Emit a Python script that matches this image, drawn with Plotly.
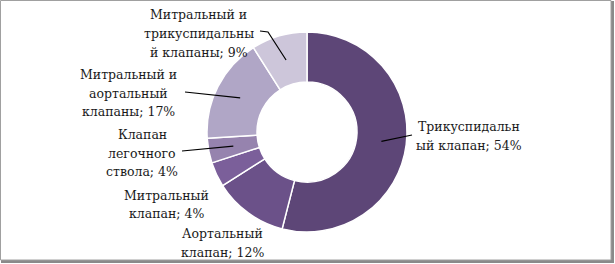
import math
import plotly.graph_objects as go

# ---- data ----
labels = [
    "Трикуспидальный клапан",
    "Аортальный клапан",
    "Митральный клапан",
    "Клапан легочного ствола",
    "Митральный и аортальный клапаны",
    "Митральный и трикуспидальный клапаны",
]
label_texts = [
    "Трикуспидальн<br>ый клапан; 54%",
    "Аортальный<br>клапан; 12%",
    "Митральный<br>клапан; 4%",
    "Клапан<br>легочного<br>ствола; 4%",
    "Митральный и<br>аортальный<br>клапаны; 17%",
    "Митральный и<br>трикуспидальны<br>й клапаны; 9%",
]
values = [54, 12, 4, 4, 17, 9]
colors = ["#5D4677", "#6B5189", "#7B5F9A", "#9683AE", "#B0A6C6", "#CDC6DA"]

# ---- layout geometry (pixels) ----
W, H = 615, 264
CX, CY, R = 307, 132, 100
HOLE = 0.5
LINE_H = 18.7

def px(x):
    return x / W

def py(y):
    return 1 - y / H

# label centre positions (pixels)
label_pos = [(469, 136), (222, 243), (166, 204.5), (142, 153), (128, 93), (199, 33.5)]
# leader line label-side points (pixels); None = no leader
leader_pts = [
    [(412, 135)],
    None,
    None,
    [(182, 151)],
    [(185, 92)],
    [(260, 31), (268, 32)],
]

FONT_FAMILY = "DejaVu Serif, Liberation Serif, serif"

fig = go.Figure(
    go.Pie(
        labels=labels,
        values=values,
        hole=HOLE,
        sort=False,
        direction="clockwise",
        rotation=0,
        marker=dict(colors=colors, line=dict(color="white", width=1.5)),
        textinfo="none",
        hoverinfo="label+percent",
        domain=dict(x=[px(CX - R), px(CX + R)], y=[py(CY + R), py(CY - R)]),
    )
)

total = sum(values)
cum = 0
shapes = []
annotations = []
font = dict(family=FONT_FAMILY, size=12.5, color="#1a1a1a")
for i, v in enumerate(values):
    mid = (cum + v / 2) / total * 2 * math.pi
    cum += v
    r = R * (1 + HOLE) / 2
    sx = CX + r * math.sin(mid)
    sy = CY - r * math.cos(mid)
    lx, ly = label_pos[i]
    lines = label_texts[i].split("<br>")
    n = len(lines)
    for k, line in enumerate(lines):
        yk = ly + (k - (n - 1) / 2) * LINE_H
        annotations.append(
            dict(
                x=px(lx), y=py(yk), xref="paper", yref="paper",
                text=line, showarrow=False, align="center",
                xanchor="center", yanchor="middle", font=font,
            )
        )
    if leader_pts[i]:
        pts = leader_pts[i] + [(sx, sy)]
        path = "M " + " L ".join(f"{px(a)},{py(b)}" for a, b in pts)
        shapes.append(
            dict(type="path", xref="paper", yref="paper", path=path,
                 line=dict(color="black", width=1.2))
        )

# frame with shadow
shapes += [
    dict(type="line", xref="paper", yref="paper", x0=px(612.5), x1=px(612.5),
         y0=py(1), y1=py(263), line=dict(color="#8a8a8a", width=3)),
    dict(type="line", xref="paper", yref="paper", x0=px(1), x1=px(614),
         y0=py(261.5), y1=py(261.5), line=dict(color="#8a8a8a", width=3)),
    dict(type="rect", xref="paper", yref="paper", x0=px(0.5), x1=px(611),
         y0=py(0.5), y1=py(260), line=dict(color="#a0a0a0", width=1)),
]

fig.update_layout(
    width=W, height=H,
    margin=dict(l=0, r=0, t=0, b=0),
    paper_bgcolor="white",
    plot_bgcolor="white",
    showlegend=False,
    font=dict(family=FONT_FAMILY),
    shapes=shapes,
    annotations=annotations,
)

fig.write_html(
    "out.html",
    config={"displayModeBar": False},
    post_script="document.body.style.margin='0';",
)
